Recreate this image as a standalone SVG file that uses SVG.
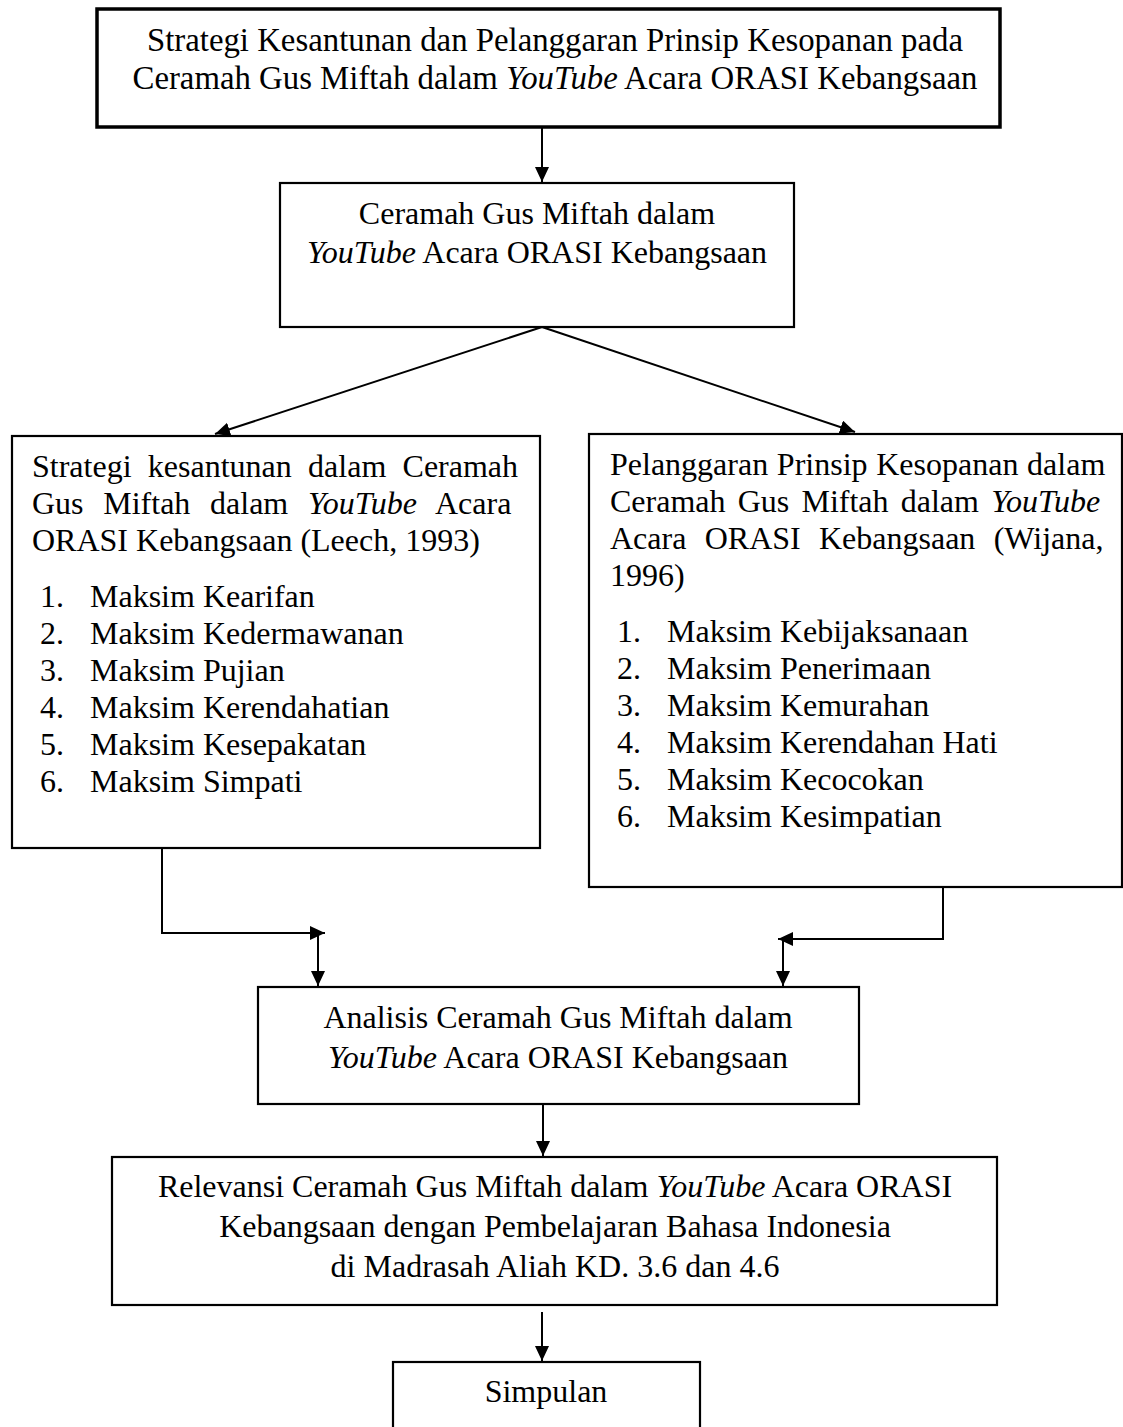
<svg xmlns="http://www.w3.org/2000/svg" width="1123" height="1427" viewBox="0 0 1123 1427">
<style>
.t{font-family:"Liberation Serif","Times New Roman",serif;font-size:32px;fill:#000}
.big{font-size:32.8px}
.m{text-anchor:middle}
.i{font-style:italic}
.box{fill:#fff;stroke:#000;stroke-width:2.2}
.thick{stroke-width:3.5}
.ln{fill:none;stroke:#000;stroke-width:2}
</style>
<defs>
<marker id="ah" markerUnits="userSpaceOnUse" markerWidth="16" markerHeight="15" refX="15" refY="7" orient="auto">
<path d="M0,0 L15,7 L0,14 z" fill="#000"/>
</marker>
</defs>
<rect width="1123" height="1427" fill="#fff"/>
<g id="connectors">
<line class="ln" x1="542" y1="127" x2="542" y2="182" marker-end="url(#ah)"/>
<line class="ln" x1="542" y1="327" x2="215" y2="434" marker-end="url(#ah)"/>
<line class="ln" x1="542" y1="327" x2="855" y2="432" marker-end="url(#ah)"/>
<polyline class="ln" points="162,842 162,933 325,933" marker-end="url(#ah)"/>
<line class="ln" x1="318" y1="933" x2="318" y2="986" marker-end="url(#ah)"/>
<polyline class="ln" points="943,880 943,939 778,939" marker-end="url(#ah)"/>
<line class="ln" x1="783" y1="939" x2="783" y2="986" marker-end="url(#ah)"/>
<line class="ln" x1="543" y1="1104" x2="543" y2="1156" marker-end="url(#ah)"/>
<line class="ln" x1="542" y1="1312" x2="542" y2="1361" marker-end="url(#ah)"/>
</g>
<g id="n1">
<rect class="box thick" x="97" y="9" width="903" height="118"/>
<text class="t big m" x="555" y="51">Strategi Kesantunan dan Pelanggaran Prinsip Kesopanan pada</text>
<text class="t big m" x="555" y="89">Ceramah Gus Miftah dalam <tspan class="i">YouTube</tspan> Acara ORASI Kebangsaan</text>
</g>
<g id="n2">
<rect class="box" x="280" y="183" width="514" height="144"/>
<text class="t m" x="537" y="224">Ceramah Gus Miftah dalam</text>
<text class="t m" x="537" y="263"><tspan class="i">YouTube</tspan> Acara ORASI Kebangsaan</text>
</g>
<g id="n3">
<rect class="box" x="12" y="436" width="528" height="412"/>
<text class="t" x="32" y="477" word-spacing="8.3">Strategi kesantunan dalam Ceramah</text>
<text class="t" x="32" y="514" word-spacing="11.7">Gus Miftah dalam <tspan class="i">YouTube</tspan> Acara</text>
<text class="t" x="32" y="551">ORASI Kebangsaan (Leech, 1993)</text>
<text class="t" x="40" y="607">1.</text><text class="t" x="90" y="607">Maksim Kearifan</text>
<text class="t" x="40" y="644">2.</text><text class="t" x="90" y="644">Maksim Kedermawanan</text>
<text class="t" x="40" y="681">3.</text><text class="t" x="90" y="681">Maksim Pujian</text>
<text class="t" x="40" y="718">4.</text><text class="t" x="90" y="718">Maksim Kerendahatian</text>
<text class="t" x="40" y="755">5.</text><text class="t" x="90" y="755">Maksim Kesepakatan</text>
<text class="t" x="40" y="792">6.</text><text class="t" x="90" y="792">Maksim Simpati</text>
</g>
<g id="n4">
<rect class="box" x="589" y="434" width="533" height="453"/>
<text class="t" x="610" y="475" word-spacing="0.7">Pelanggaran Prinsip Kesopanan dalam</text>
<text class="t" x="610" y="512" word-spacing="4.2">Ceramah Gus Miftah dalam <tspan class="i">YouTube</tspan></text>
<text class="t" x="610" y="549" word-spacing="10.3">Acara ORASI Kebangsaan (Wijana,</text>
<text class="t" x="610" y="586">1996)</text>
<text class="t" x="617" y="642">1.</text><text class="t" x="667" y="642">Maksim Kebijaksanaan</text>
<text class="t" x="617" y="679">2.</text><text class="t" x="667" y="679">Maksim Penerimaan</text>
<text class="t" x="617" y="716">3.</text><text class="t" x="667" y="716">Maksim Kemurahan</text>
<text class="t" x="617" y="753">4.</text><text class="t" x="667" y="753">Maksim Kerendahan Hati</text>
<text class="t" x="617" y="790">5.</text><text class="t" x="667" y="790">Maksim Kecocokan</text>
<text class="t" x="617" y="827">6.</text><text class="t" x="667" y="827">Maksim Kesimpatian</text>
</g>
<g id="n5">
<rect class="box" x="258" y="987" width="601" height="117"/>
<text class="t m" x="558" y="1028">Analisis Ceramah Gus Miftah dalam</text>
<text class="t m" x="558" y="1068"><tspan class="i">YouTube</tspan> Acara ORASI Kebangsaan</text>
</g>
<g id="n6">
<rect class="box" x="112" y="1157" width="885" height="148"/>
<text class="t m" x="555" y="1197">Relevansi Ceramah Gus Miftah dalam <tspan class="i">YouTube</tspan> Acara ORASI</text>
<text class="t m" x="555" y="1237">Kebangsaan dengan Pembelajaran Bahasa Indonesia</text>
<text class="t m" x="555" y="1277">di Madrasah Aliah KD. 3.6 dan 4.6</text>
</g>
<g id="n7">
<rect class="box" x="393" y="1362" width="307" height="80"/>
<text class="t m" x="546" y="1402">Simpulan</text>
</g>
</svg>
